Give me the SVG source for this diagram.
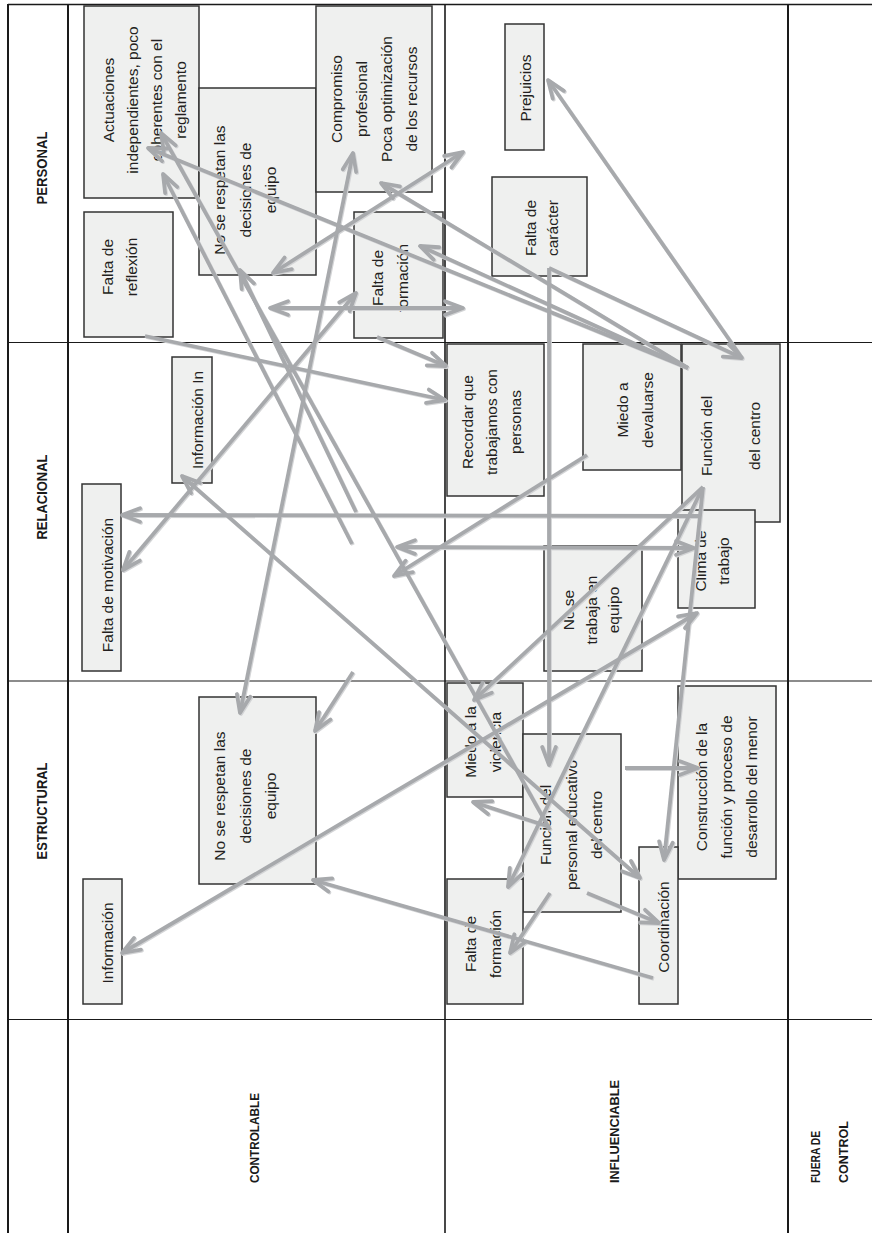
<svg xmlns="http://www.w3.org/2000/svg" width="872" height="1233" viewBox="0 0 872 1233">
<style>
.grid{stroke:#1a1a1a;fill:none}
.box{fill:#eff0ef;stroke:#333333;stroke-width:1.5}
.t{font-family:"Liberation Sans",Arial,sans-serif;font-size:15.5px;fill:#231f20;text-anchor:middle}
.h{font-family:"Liberation Sans",Arial,sans-serif;font-size:15px;font-weight:bold;fill:#1a1a1a;text-anchor:middle}
.b{font-family:"Liberation Sans",Arial,sans-serif;font-size:13px;font-weight:bold;fill:#1a1a1a;text-anchor:start}
.c{fill:none;stroke:#a7a9ac;stroke-width:3.8;stroke-linecap:butt}
.e{marker-end:url(#ah)}
.d{marker-start:url(#ah);marker-end:url(#ah)}
</style>
<defs>
<marker id="ah" markerUnits="userSpaceOnUse" markerWidth="40" markerHeight="40" refX="0" refY="0" orient="auto-start-reverse" overflow="visible">
<path d="M-18,-6.8 L0,0 L-18,6.8" fill="none" stroke="#a7a9ac" stroke-width="3.8" stroke-linejoin="round" stroke-linecap="round"/>
</marker>
<filter id="sh" filterUnits="userSpaceOnUse" x="0" y="0" width="872" height="1233">
<feOffset in="SourceAlpha" dx="1.3" dy="1.1" result="o"/>
<feFlood flood-color="#d3d4d6"/>
<feComposite in2="o" operator="in" result="s"/>
<feMerge><feMergeNode in="s"/><feMergeNode in="SourceGraphic"/></feMerge>
</filter>
</defs>
<rect width="872" height="1233" fill="#ffffff"/>
<g id="table">
<line class="grid" x1="8" y1="4.5" x2="872" y2="4.5" stroke-width="1.5"/>
<line class="grid" x1="8" y1="342.5" x2="872" y2="342.5" stroke-width="1.2"/>
<line class="grid" x1="8" y1="681" x2="872" y2="681" stroke-width="1.2"/>
<line class="grid" x1="8" y1="1019.5" x2="872" y2="1019.5" stroke-width="1.2"/>
<line class="grid" x1="8" y1="4" x2="8" y2="1233" stroke-width="2"/>
<line class="grid" x1="68" y1="4" x2="68" y2="1233" stroke-width="2"/>
<line class="grid" x1="445" y1="4" x2="445" y2="1233" stroke-width="1.6"/>
<line class="grid" x1="788" y1="4" x2="788" y2="1233" stroke-width="2"/>
<text class="h" transform="translate(47,168) rotate(-90)" textLength="73" lengthAdjust="spacingAndGlyphs">PERSONAL</text>
<text class="h" transform="translate(47,497) rotate(-90)" textLength="85" lengthAdjust="spacingAndGlyphs">RELACIONAL</text>
<text class="h" transform="translate(47,811) rotate(-90)" textLength="97" lengthAdjust="spacingAndGlyphs">ESTRUCTURAL</text>
<text class="b" transform="translate(259,1183) rotate(-90)" textLength="90" lengthAdjust="spacingAndGlyphs">CONTROLABLE</text>
<text class="b" transform="translate(619,1183) rotate(-90)" textLength="103" lengthAdjust="spacingAndGlyphs">INFLUENCIABLE</text>
<text class="b" transform="translate(820,1183) rotate(-90)" textLength="52" lengthAdjust="spacingAndGlyphs">FUERA DE</text>
<text class="b" transform="translate(848,1183) rotate(-90)" textLength="62" lengthAdjust="spacingAndGlyphs">CONTROL</text>
</g>
<g id="n-actuaciones"><rect class="box" x="84" y="6" width="115" height="192"/>
<text class="t" transform="translate(114,100) rotate(-90)"><tspan x="0" y="0">Actuaciones</tspan><tspan x="0" dy="24">independientes, poco</tspan><tspan x="0" dy="24">coherentes con el</tspan><tspan x="0" dy="24">reglamento</tspan></text></g>
<g id="n-norespetan1"><rect class="box" x="199" y="88" width="117" height="187"/>
<text class="t" transform="translate(225,190) rotate(-90)"><tspan x="0" y="0">No se respetan las</tspan><tspan x="0" dy="25.5">decisiones de</tspan><tspan x="0" dy="25.5">equipo</tspan></text></g>
<g id="n-compromiso"><rect class="box" x="316" y="6" width="116" height="186"/>
<text class="t" transform="translate(342,99) rotate(-90)"><tspan x="0" y="0">Compromiso</tspan><tspan x="0" dy="25">profesional</tspan><tspan x="0" dy="25">Poca optimización</tspan><tspan x="0" dy="25">de los recursos</tspan></text></g>
<g id="n-reflexion"><rect class="box" x="84" y="212" width="89" height="125"/>
<text class="t" transform="translate(113,267) rotate(-90)"><tspan x="0" y="0">Falta de</tspan><tspan x="0" dy="24">reflexión</tspan></text></g>
<g id="n-formacion1"><rect class="box" x="354" y="212" width="89" height="126"/>
<text class="t" transform="translate(383,278) rotate(-90)"><tspan x="0" y="0">Falta de</tspan><tspan x="0" dy="25">formación</tspan></text></g>
<g id="n-prejuicios"><rect class="box" x="505" y="24" width="39" height="126"/>
<text class="t" transform="translate(531,88) rotate(-90)">Prejuicios</text></g>
<g id="n-caracter"><rect class="box" x="492" y="177" width="95" height="99"/>
<text class="t" transform="translate(536,228) rotate(-90)"><tspan x="0" y="0">Falta de</tspan><tspan x="0" dy="22">carácter</tspan></text></g>
<g id="n-recordar"><rect class="box" x="447" y="344" width="97" height="152"/>
<text class="t" transform="translate(473,422) rotate(-90)"><tspan x="0" y="0">Recordar que</tspan><tspan x="0" dy="24">trabajamos con</tspan><tspan x="0" dy="24">personas</tspan></text></g>
<g id="n-devaluarse"><rect class="box" x="583" y="344" width="98" height="126"/>
<text class="t" transform="translate(628,410) rotate(-90)"><tspan x="0" y="0">Miedo a</tspan><tspan x="0" dy="25">devaluarse</tspan></text></g>
<g id="n-funcioncentro"><rect class="box" x="682" y="344" width="98" height="178"/>
<text class="t" transform="translate(712,436) rotate(-90)"><tspan x="0" y="0">Función del</tspan><tspan x="0" dy="48">del centro</tspan></text></g>
<g id="n-clima"><rect class="box" x="678" y="510" width="77" height="98"/>
<text class="t" transform="translate(706,561) rotate(-90)"><tspan x="0" y="0">Clima de</tspan><tspan x="0" dy="23">trabajo</tspan></text></g>
<g id="n-notrabaja"><rect class="box" x="544" y="546" width="98" height="125"/>
<text class="t" transform="translate(574,610) rotate(-90)"><tspan x="0" y="0">No se</tspan><tspan x="0" dy="22.5">trabaja en</tspan><tspan x="0" dy="22.5">equipo</tspan></text></g>
<g id="n-informacionin"><rect class="box" x="172" y="357" width="40" height="126"/>
<text class="t" transform="translate(203,420) rotate(-90)">Información In</text></g>
<g id="n-motivacion"><rect class="box" x="82" y="484" width="39" height="187"/>
<text class="t" transform="translate(113,585) rotate(-90)">Falta de motivación</text></g>
<g id="n-norespetan2"><rect class="box" x="199" y="697" width="117" height="187"/>
<text class="t" transform="translate(225,796) rotate(-90)"><tspan x="0" y="0">No se respetan las</tspan><tspan x="0" dy="25.5">decisiones de</tspan><tspan x="0" dy="25.5">equipo</tspan></text></g>
<g id="n-informacion"><rect class="box" x="83" y="879" width="39" height="125"/>
<text class="t" transform="translate(113,943) rotate(-90)">Información</text></g>
<g id="n-violencia"><rect class="box" x="447" y="683" width="76" height="114"/>
<text class="t" transform="translate(476,742) rotate(-90)"><tspan x="0" y="0">Miedo a la</tspan><tspan x="0" dy="25">violencia</tspan></text></g>
<g id="n-funcionpersonal"><rect class="box" x="523" y="734" width="98" height="178"/>
<text class="t" transform="translate(551,825) rotate(-90)"><tspan x="0" y="0">Función del</tspan><tspan x="0" dy="25.5">personal educativo</tspan><tspan x="0" dy="25.5">del centro</tspan></text></g>
<g id="n-construccion"><rect class="box" x="678" y="686" width="98" height="193"/>
<text class="t" transform="translate(707,787) rotate(-90)"><tspan x="0" y="0">Construcción de la</tspan><tspan x="0" dy="25">función y proceso de</tspan><tspan x="0" dy="25">desarrollo del menor</tspan></text></g>
<g id="n-coordinacion"><rect class="box" x="639" y="847" width="39" height="157"/>
<text class="t" transform="translate(669,927) rotate(-90)">Coordinación</text></g>
<g id="n-formacion2"><rect class="box" x="447" y="879" width="76" height="125"/>
<text class="t" transform="translate(476,944) rotate(-90)"><tspan x="0" y="0">Falta de</tspan><tspan x="0" dy="25">formación</tspan></text></g>
<g id="connectors" filter="url(#sh)">
<path class="c e" d="M688,368 L148,148"/>
<path class="c e" d="M688,368 L381,183"/>
<path class="c e" d="M688,368 L420,246"/>
<path class="c e" d="M549,268 L742,358"/>
<path class="c e" d="M742,358 L548,80"/>
<path class="c e" d="M549,268 L549,765"/>
<path class="c e" d="M550,830 L161,133"/>
<path class="c e" d="M352,544 L163,174"/>
<path class="c e" d="M356,512 L240,270"/>
<path class="c d" d="M240,713 L353,153"/>
<path class="c d" d="M273,273 L463,152"/>
<path class="c d" d="M270,308 L463,308"/>
<path class="c d" d="M123,570 L356,293"/>
<path class="c e" d="M145,336 L445,400"/>
<path class="c e" d="M377,337 L446,366"/>
<path class="c e" d="M700,516 L122,515"/>
<path class="c d" d="M397,547 L694,548"/>
<path class="c e" d="M587,455 L394,576"/>
<path class="c d" d="M122,953 L697,613"/>
<path class="c e" d="M703,487 L474,700"/>
<path class="c e" d="M703,487 L508,887"/>
<path class="c e" d="M703,487 L664,860"/>
<path class="c d" d="M182,476 L640,878"/>
<path class="c e" d="M353,672 L315,731"/>
<path class="c e" d="M625,768 L698,768"/>
<path class="c e" d="M587,893 L659,923"/>
<path class="c e" d="M550,893 L510,953"/>
<path class="c e" d="M550,827 L473,802"/>
<path class="c e" d="M653,978 L313,880"/>
</g>
</svg>
